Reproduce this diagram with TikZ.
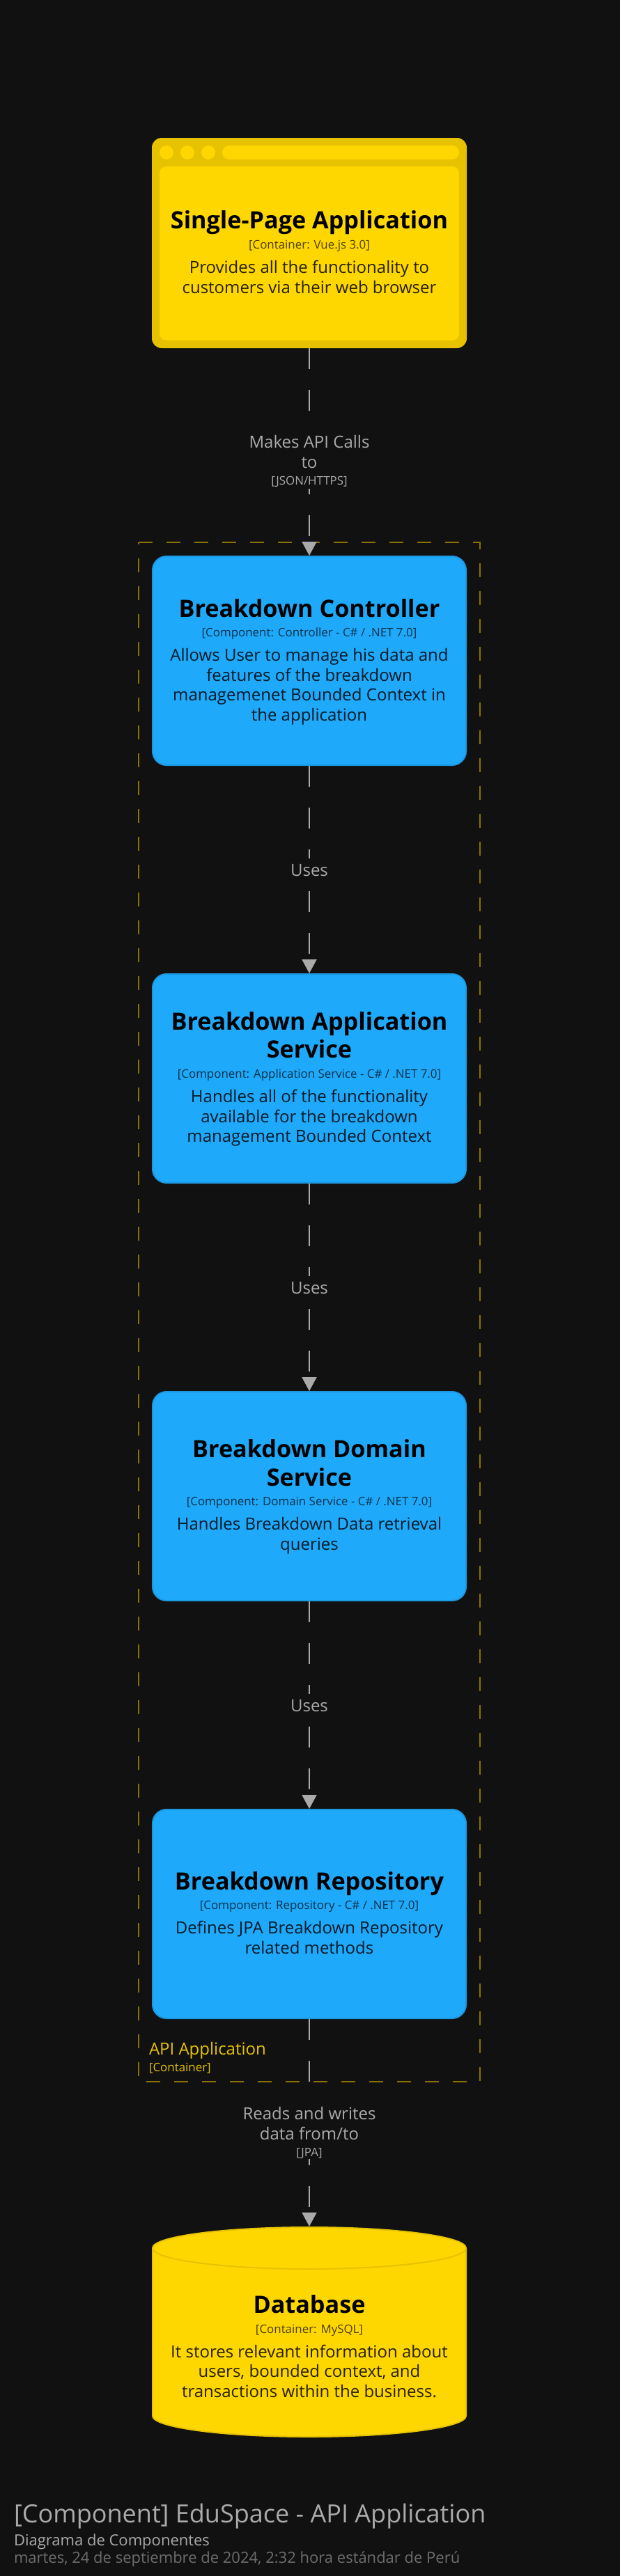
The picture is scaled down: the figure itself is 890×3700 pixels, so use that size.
\documentclass[tikz,border=0pt]{standalone}
\usepackage{fontspec}
\setmainfont{Open Sans}
\usetikzlibrary{arrows.meta}
\definecolor{bg}{HTML}{111111}
\definecolor{gold}{HTML}{FFD700}
\definecolor{golddark}{HTML}{E6C200}
\definecolor{blu}{HTML}{1FA9FA}
\definecolor{bludark}{HTML}{1C98E1}
\definecolor{bound}{HTML}{887200}
\definecolor{conn}{HTML}{AAAAAA}
\tikzset{
 x=1pt,y=-1pt,
 line/.style={anchor=base,align=center,inner sep=0pt,outer sep=0pt},
 nametext/.style={line,font=\fontsize{34.2}{41}\selectfont\bfseries,text=black},
 metatext/.style={line,font=\fontsize{16.9}{20}\selectfont,text=black,text opacity=.7},
 desctext/.style={line,font=\fontsize{24}{29}\selectfont,text=black,text opacity=.85},
 compbox/.style={draw=bludark,fill=blu,line width=2pt,rounded corners=20pt,minimum width=450pt,minimum height=300pt,inner sep=0pt,outer sep=1pt},
 lbl/.style={line,font=\fontsize{24}{29}\selectfont,text=conn},
 lblsmall/.style={line,font=\fontsize{16.9}{20}\selectfont,text=conn},
 lblbg/.style={fill=bg,inner sep=0pt,minimum width=50pt},
 rel/.style={draw=conn,line width=2pt,dash pattern=on 30pt off 30pt,-{Triangle[length=20pt,width=21pt,fill=conn]}},
}
\begin{document}
\begin{tikzpicture}
\useasboundingbox (0,0) rectangle (890,3700);
\fill[bg] (0,0) rectangle (890,3700);
% boundary
\draw[bound,line width=2pt,dash pattern=on 20pt off 20pt] (198.6,779) -- (689,779) -- (689,2990) -- (198.6,2990) -- cycle;
% SPA
\node[fill=golddark,rounded corners=14pt,minimum width=452pt,minimum height=302pt,inner sep=0pt] (spa) at (444,349) {};
\node[fill=gold,rounded corners=10pt,minimum width=430pt,minimum height=250pt,inner sep=0pt] (spainner) at (444,364) {};
\node[fill=gold,circle,minimum size=20pt,inner sep=0pt] (dota) at (239,219) {};
\node[fill=gold,circle,minimum size=20pt,inner sep=0pt] (dotb) at (269,219) {};
\node[fill=gold,circle,minimum size=20pt,inner sep=0pt] (dotc) at (299,219) {};
\node[fill=gold,rounded corners=10pt,minimum width=340pt,minimum height=20pt,inner sep=0pt] (urlbar) at (489,219) {};
% components
\node[compbox] (ctrl) at (444,949) {};
\node[compbox] (appsvc) at (444,1549) {};
\node[compbox] (domsvc) at (444,2149) {};
\node[compbox] (repo) at (444,2749) {};
% database
\node[inner sep=0pt,minimum width=452pt,minimum height=302pt] (db) at (444,3349) {};
\draw[golddark,line width=2pt,fill=gold] (219,3229) arc[start angle=180,end angle=0,x radius=225,y radius=-30] -- (669,3470) arc[start angle=0,end angle=-180,x radius=225,y radius=-30] -- cycle;
\draw[golddark,line width=2pt] (219,3229) arc[start angle=180,end angle=360,x radius=225,y radius=-30];
% connectors
\draw[rel] (spa.south) -- (ctrl.north);
\draw[rel] (ctrl.south) -- (appsvc.north);
\draw[rel] (appsvc.south) -- (domsvc.north);
\draw[rel] (domsvc.south) -- (repo.north);
\draw[rel] (repo.south) -- (db.north);
% label backgrounds
\node[lblbg,minimum height=84pt] (bga) at (444,660) {};
\node[lblbg,minimum height=32pt] (bgb) at (444,1249) {};
\node[lblbg,minimum height=32pt] (bgc) at (444,1849) {};
\node[lblbg,minimum height=32pt] (bgd) at (444,2449) {};
\node[lblbg,minimum height=84pt] (bge) at (444,3059) {};
% connector labels
\node[lbl] (la1) at (444,643) {Makes API Calls};
\node[lbl] (la2) at (444,672) {to};
\node[lblsmall] (la3) at (444,696) {[JSON/HTTPS]};
\node[lbl] (lb) at (444,1258) {Uses};
\node[lbl] (lc) at (444,1858) {Uses};
\node[lbl] (ld) at (444,2458) {Uses};
\node[lbl] (le1) at (444,3044) {Reads and writes};
\node[lbl] (le2) at (444,3073) {data from/to};
\node[lblsmall] (le3) at (444,3097) {[JPA]};
% boundary label
\node[line,anchor=base west,font=\fontsize{24}{29}\selectfont,text=golddark] (bn) at (214,2951) {API Application};
\node[line,anchor=base west,font=\fontsize{16.9}{20}\selectfont,text=golddark] (bm) at (214,2975) {[Container]};
% SPA text
\node[nametext] (spaname) at (444,328) {Single-Page Application};
\node[metatext] (spameta) at (444,357) {[Container: Vue.js 3.0]};
\node[desctext] (spad1) at (444,392) {Provides all the functionality to};
\node[desctext] (spad2) at (444,421) {customers via their web browser};
% controller text
\node[nametext] (ctn) at (444,886) {Breakdown Controller};
\node[metatext] (ctm) at (444,914) {[Component: Controller - C\# / .NET 7.0]};
\node[desctext] (ctd1) at (444,949) {Allows User to manage his data and};
\node[desctext] (ctd2) at (444,978) {features of the breakdown};
\node[desctext] (ctd3) at (444,1006) {managemenet Bounded Context in};
\node[desctext] (ctd4) at (444,1035) {the application};
% application service text
\node[nametext] (asn1) at (444,1479) {Breakdown Application};
\node[nametext] (asn2) at (444,1519) {Service};
\node[metatext] (asm) at (444,1548) {[Component: Application Service - C\# / .NET 7.0]};
\node[desctext] (asd1) at (444,1583) {Handles all of the functionality};
\node[desctext] (asd2) at (444,1612) {available for the breakdown};
\node[desctext] (asd3) at (444,1640) {management Bounded Context};
% domain service text
\node[nametext] (dsn1) at (444,2093) {Breakdown Domain};
\node[nametext] (dsn2) at (444,2134) {Service};
\node[metatext] (dsm) at (444,2162) {[Component: Domain Service - C\# / .NET 7.0]};
\node[desctext] (dsd1) at (444,2197) {Handles Breakdown Data retrieval};
\node[desctext] (dsd2) at (444,2226) {queries};
% repository text
\node[nametext] (rpn) at (444,2714) {Breakdown Repository};
\node[metatext] (rpm) at (444,2742) {[Component: Repository - C\# / .NET 7.0]};
\node[desctext] (rpd1) at (444,2777) {Defines JPA Breakdown Repository};
\node[desctext] (rpd2) at (444,2806) {related methods};
% database text
\node[nametext] (dbn) at (444,3322) {Database};
\node[metatext] (dbm) at (444,3351) {[Container: MySQL]};
\node[desctext] (dbd1) at (444,3386) {It stores relevant information about};
\node[desctext] (dbd2) at (444,3414) {users, bounded context, and};
\node[desctext] (dbd3) at (444,3443) {transactions within the business.};
% footer
\node[line,anchor=base west,font=\fontsize{36}{43}\selectfont,text=conn] (ft1) at (20,3623) {[Component] EduSpace - API Application};
\node[line,anchor=base west,font=\fontsize{22}{26}\selectfont,text=conn] (ft2) at (20,3656) {Diagrama de Componentes};
\node[line,anchor=base west,font=\fontsize{22}{26}\selectfont,text=conn!60!bg] (ft3) at (20,3681) {martes, 24 de septiembre de 2024, 2:32 hora estándar de Perú};
\end{tikzpicture}
\end{document}
